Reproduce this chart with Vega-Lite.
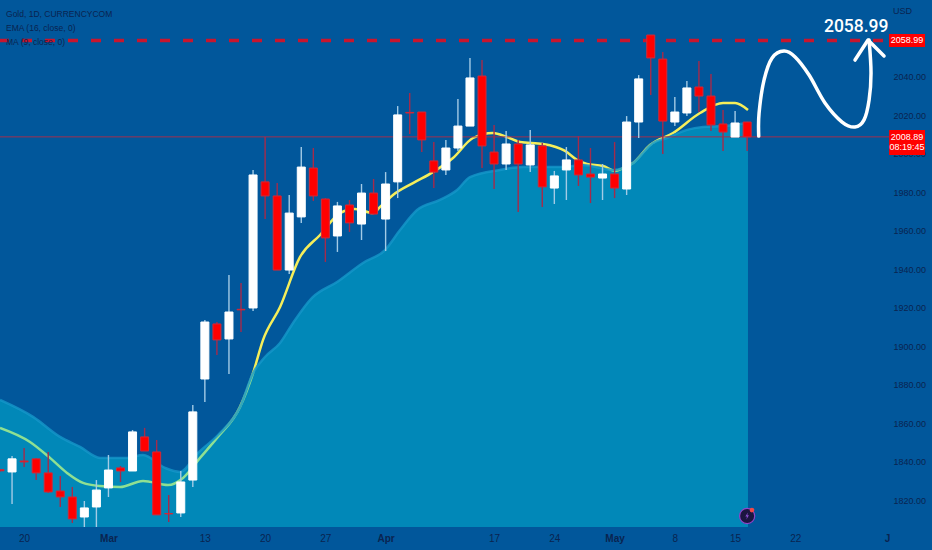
{"$schema":"https://vega.github.io/schema/vega-lite/v6.json","width":932,"height":527,"padding":{"left":0,"top":0,"right":0,"bottom":23},"autosize":{"type":"none"},"background":"#01579b","view":{"stroke":null},"config":{"axis":{"grid":false,"domain":false,"ticks":false,"title":null,"labelFont":"Liberation Sans","labelFontSize":9,"labelColor":"#0a2450"}},
"datasets":{
"candles":[{"i":0,"o":1836,"h":1836.2,"l":1835,"c":1835.4},{"i":1,"o":1834.8,"h":1843.1,"l":1818.2,"c":1841.6},{"i":2,"o":1840.5,"h":1847.3,"l":1837.4,"c":1840},{"i":3,"o":1841.6,"h":1842.1,"l":1830.6,"c":1834.3},{"i":4,"o":1834.3,"h":1845.2,"l":1823.9,"c":1824.4},{"i":5,"o":1824.9,"h":1832.7,"l":1816.6,"c":1821.8},{"i":6,"o":1821.8,"h":1827,"l":1808.3,"c":1810.4},{"i":7,"o":1811.4,"h":1819.7,"l":1806.2,"c":1816.1},{"i":8,"o":1816.6,"h":1830.6,"l":1806.2,"c":1825.4},{"i":9,"o":1826.5,"h":1843.6,"l":1821.8,"c":1835.8},{"i":10,"o":1836.9,"h":1837.9,"l":1829.6,"c":1835.3},{"i":11,"o":1835.3,"h":1856.6,"l":1835.3,"c":1855.6},{"i":12,"o":1853,"h":1857.7,"l":1845.7,"c":1845.7},{"i":13,"o":1845.2,"h":1851.4,"l":1812.5,"c":1812.5},{"i":14,"o":1813.2,"h":1822.8,"l":1808.8,"c":1813},{"i":15,"o":1813.5,"h":1835.3,"l":1811.4,"c":1829.6},{"i":16,"o":1830.6,"h":1869.6,"l":1827,"c":1866},{"i":17,"o":1883.1,"h":1913.8,"l":1871.2,"c":1912.7},{"i":18,"o":1911.7,"h":1912.7,"l":1895.6,"c":1903.4},{"i":19,"o":1903.9,"h":1937.1,"l":1885.7,"c":1917.9},{"i":20,"o":1919.3,"h":1933,"l":1907.5,"c":1919},{"i":21,"o":1920,"h":1991.7,"l":1918.4,"c":1989.1},{"i":22,"o":1985.5,"h":2008.8,"l":1966.2,"c":1978.2},{"i":23,"o":1978.2,"h":1984.9,"l":1939.7,"c":1939.7},{"i":24,"o":1939.7,"h":1978.7,"l":1937.6,"c":1969.3},{"i":25,"o":1967.3,"h":2003.6,"l":1964.2,"c":1993.2},{"i":26,"o":1992.7,"h":2003.1,"l":1975.6,"c":1978.2},{"i":27,"o":1976.6,"h":1977.1,"l":1943.9,"c":1956.4},{"i":28,"o":1957.4,"h":1975.1,"l":1949.1,"c":1973},{"i":29,"o":1973.5,"h":1976.1,"l":1959.5,"c":1964.2},{"i":30,"o":1963.6,"h":1984.4,"l":1955.3,"c":1979.7},{"i":31,"o":1979.7,"h":1987,"l":1968.3,"c":1968.8},{"i":32,"o":1966.2,"h":1990.6,"l":1949.6,"c":1984.4},{"i":33,"o":1985.5,"h":2024.9,"l":1977.1,"c":2020.3},{"i":34,"o":2021.6,"h":2031.7,"l":2010.4,"c":2021.3},{"i":35,"o":2021.8,"h":2021.8,"l":2001,"c":2007.3},{"i":36,"o":1996.4,"h":2006.2,"l":1982.3,"c":1990.6},{"i":37,"o":1991.7,"h":2007.3,"l":1989.1,"c":2003.1},{"i":38,"o":2003.1,"h":2028.6,"l":2001.6,"c":2014.5},{"i":39,"o":2014.5,"h":2049.9,"l":2014.5,"c":2039.5},{"i":40,"o":2040.5,"h":2048.8,"l":1992.7,"c":2004.2},{"i":41,"o":2001,"h":2015.1,"l":1981.8,"c":1994.8},{"i":42,"o":1994.8,"h":2011.9,"l":1991.7,"c":2005.2},{"i":43,"o":2005.2,"h":2007.3,"l":1969.9,"c":1994.8},{"i":44,"o":1994.3,"h":2012.5,"l":1990.6,"c":2004.7},{"i":45,"o":2004.2,"h":2005.7,"l":1972.5,"c":1982.9},{"i":46,"o":1982.3,"h":1991.2,"l":1974,"c":1988.6},{"i":47,"o":1991.7,"h":2003.6,"l":1976.1,"c":1996.9},{"i":48,"o":1996.9,"h":2009.3,"l":1983.4,"c":1989.1},{"i":49,"o":1989.6,"h":2003.1,"l":1974.5,"c":1988},{"i":50,"o":1987.5,"h":1994.8,"l":1976.1,"c":1989.6},{"i":51,"o":1989.6,"h":2006.2,"l":1977.1,"c":1982.3},{"i":52,"o":1981.8,"h":2019.7,"l":1978.7,"c":2016.6},{"i":53,"o":2016.6,"h":2041,"l":2008.3,"c":2039},{"i":54,"o":2061.8,"h":2061.8,"l":2030.6,"c":2049.9},{"i":55,"o":2049.3,"h":2053,"l":2000,"c":2017.1},{"i":56,"o":2016.6,"h":2029.6,"l":2014.5,"c":2021.8},{"i":57,"o":2021.3,"h":2037.9,"l":2019.7,"c":2034.3},{"i":58,"o":2034.8,"h":2048.3,"l":2021.8,"c":2030.1},{"i":59,"o":2030.1,"h":2041.6,"l":2011.9,"c":2015.1},{"i":60,"o":2015.6,"h":2022.9,"l":2001.6,"c":2011.4},{"i":61,"o":2008.8,"h":2022.3,"l":2008.8,"c":2016.1},{"i":62,"o":2016.6,"h":2016.6,"l":2001.6,"c":2008.89}],
"ma":[{"i":0,"p":1857.7},{"i":2.49,"p":1850.4},{"i":4.15,"p":1842.1},{"i":5.56,"p":1834.3},{"i":6.89,"p":1829.1},{"i":8.3,"p":1827.5},{"i":9.96,"p":1827},{"i":11.87,"p":1830.1},{"i":13.94,"p":1828},{"i":15.19,"p":1831.7},{"i":16.6,"p":1842.1},{"i":18.01,"p":1852.5},{"i":19.92,"p":1868.6},{"i":21,"p":1886.2},{"i":21.83,"p":1903.4},{"i":23.24,"p":1920.5},{"i":24.9,"p":1946.5},{"i":26.56,"p":1957.9},{"i":28.22,"p":1969.3},{"i":29.46,"p":1971.4},{"i":30.95,"p":1969.3},{"i":31.54,"p":1972.5},{"i":32.61,"p":1978.7},{"i":34.27,"p":1984.9},{"i":35.93,"p":1990.6},{"i":37.59,"p":1997.9},{"i":39.25,"p":2008.3},{"i":40.91,"p":2010.9},{"i":42.07,"p":2008.8},{"i":43.15,"p":2006.2},{"i":45.06,"p":2005.2},{"i":46.89,"p":2001.6},{"i":47.88,"p":1996.9},{"i":48.71,"p":1994.8},{"i":50.04,"p":1993.8},{"i":51.04,"p":1991.2},{"i":51.7,"p":1992.7},{"i":52.53,"p":1995.3},{"i":53.94,"p":2004.7},{"i":55.85,"p":2010.9},{"i":58.09,"p":2021.3},{"i":60,"p":2026.5},{"i":61,"p":2026.5},{"i":62.07,"p":2022.9}],
"ema":[{"i":0,"p":1872.2},{"i":2.74,"p":1863.4},{"i":4.98,"p":1853},{"i":6.64,"p":1847.8},{"i":8.3,"p":1842.1},{"i":10.54,"p":1842.1},{"i":11.87,"p":1843.6},{"i":13.69,"p":1836.9},{"i":14.94,"p":1834.8},{"i":16.43,"p":1844.7},{"i":18.09,"p":1854},{"i":19.92,"p":1868.6},{"i":21,"p":1886.2},{"i":21.99,"p":1894.5},{"i":23.24,"p":1901.8},{"i":24.32,"p":1912.2},{"i":25.89,"p":1925.2},{"i":27.97,"p":1933.5},{"i":30.12,"p":1943.4},{"i":31.95,"p":1950.1},{"i":33.2,"p":1960.5},{"i":34.61,"p":1970.9},{"i":36.51,"p":1976.1},{"i":37.93,"p":1981.3},{"i":39,"p":1988},{"i":41.49,"p":1991.7},{"i":43.4,"p":1993.2},{"i":46.72,"p":1993.2},{"i":48.38,"p":1994.3},{"i":50.87,"p":1991.7},{"i":52.53,"p":1995.3},{"i":54.19,"p":2005.7},{"i":55.35,"p":2008.3},{"i":57.01,"p":2012.5},{"i":58.34,"p":2014},{"i":60,"p":2014.5},{"i":62.07,"p":2016.1}],
"curve":[{"n":0,"i":62.96,"p":2009.3},{"n":1,"i":62.99,"p":2021.3},{"n":2,"i":63.4,"p":2038.4},{"n":3,"i":64.07,"p":2049.9},{"n":4,"i":65.06,"p":2053.5},{"n":5,"i":65.98,"p":2050.4},{"n":6,"i":67.14,"p":2041},{"n":7,"i":68.46,"p":2026.5},{"n":8,"i":69.88,"p":2016.6},{"n":9,"i":70.95,"p":2014},{"n":10,"i":71.7,"p":2017.7},{"n":11,"i":72.12,"p":2028},{"n":12,"i":72.28,"p":2042.1},{"n":13,"i":72.12,"p":2059.2}],
"head":[{"n":0,"i":70.95,"p":2048.8},{"n":1,"i":72.03,"p":2059.2},{"n":2,"i":73.36,"p":2050.9}],
"hlines":[{"i":0,"i2":73.78,"p":2008.89}],
"target":[{"i":0,"i2":73.78,"p":2058.99}],
"tags":[{"i":73.78,"i2":76.76,"p":2062.3,"p2":2055.6},{"i":73.78,"i2":76.76,"p":2012.5,"p2":1999.5}],
"tagText":[{"i":75.27,"p":2059,"t":"2058.99"},{"i":75.27,"p":2008.8,"t":"2008.89"},{"i":75.27,"p":2003.4,"t":"08:19:45"}],
"legend":[{"i":0.5,"p":2072.7,"t":"Gold, 1D, CURRENCYCOM","w":"bold"},{"i":0.5,"p":2065.5,"t":"EMA (16, close, 0)","w":"normal"},{"i":0.5,"p":2058.2,"t":"MA (9, close, 0)","w":"normal"}]
},
"encoding":{
"x":{"field":"i","type":"quantitative","title":null,"scale":{"domain":[0,77.34],"nice":false,"zero":false,"padding":0},"axis":{"values":[2,9,17,22,27,32,41,46,51,56,61,66,73.6],"labelExpr":"{'2':'20','9':'Mar','17':'13','22':'20','27':'27','32':'Apr','41':'17','46':'24','51':'May','56':'8','61':'15','66':'22','73.6':'J'}[datum.value]","labelPadding":6,"labelOverlap":false,"labelBound":false,"labelFlush":false,"labelFontSize":10,"labelFontWeight":{"condition":{"test":"datum.value==9||datum.value==32||datum.value==51||datum.value==73.6","value":"bold"},"value":"normal"}}},
"y":{"field":"p","type":"quantitative","title":null,"scale":{"domain":[1806.2,2080],"nice":false,"zero":false},"axis":{"orient":"right","offset":-47,"labelPadding":8,"values":[1820,1840,1860,1880,1900,1920,1940,1960,1980,2000,2020,2040],"format":".2f","labelOverlap":false,"labelBound":false,"labelFlush":false}}
},
"layer":[
{"data":{"name":"ma"},"mark":{"type":"line","interpolate":"monotone","stroke":"#f5ee5a","strokeWidth":2.5}},
{"data":{"name":"ema"},"mark":{"type":"area","interpolate":"monotone","color":"#03cce0","opacity":0.42},"encoding":{"y2":{"datum":1806.2}}},
{"data":{"name":"ema"},"mark":{"type":"line","interpolate":"monotone","stroke":"#1597c9","strokeWidth":2.5,"opacity":0.8}},
{"data":{"name":"hlines"},"mark":{"type":"rule","stroke":"#a0304f","strokeWidth":1},"encoding":{"x2":{"field":"i2"}}},
{"data":{"name":"target"},"mark":{"type":"rule","stroke":"#c8162e","strokeWidth":3.5,"strokeDash":[10,13],"strokeDashOffset":1},"encoding":{"x2":{"field":"i2"}}},
{"data":{"name":"candles"},"mark":{"type":"rule","strokeWidth":1.4},"encoding":{"y":{"field":"l","type":"quantitative","title":null,"scale":{"domain":[1806.2,2080],"nice":false,"zero":false},"axis":{"orient":"right","offset":-47,"labelPadding":8,"values":[1820,1840,1860,1880,1900,1920,1940,1960,1980,2000,2020,2040],"format":".2f","labelOverlap":false,"labelBound":false,"labelFlush":false}},"y2":{"field":"h"},"color":{"condition":{"test":"datum.c>=datum.o","value":"#a3cbe6"},"value":"#a62a4a"}}},
{"data":{"name":"candles"},"mark":{"type":"bar","size":8,"strokeWidth":1},"encoding":{"y":{"field":"o","type":"quantitative","title":null,"scale":{"domain":[1806.2,2080],"nice":false,"zero":false},"axis":{"orient":"right","offset":-47,"labelPadding":8,"values":[1820,1840,1860,1880,1900,1920,1940,1960,1980,2000,2020,2040],"format":".2f","labelOverlap":false,"labelBound":false,"labelFlush":false}},"y2":{"field":"c"},"color":{"condition":{"test":"datum.c>=datum.o","value":"#ffffff"},"value":"#ff0000"},"stroke":{"condition":{"test":"datum.c>=datum.o","value":"#ffffff"},"value":"#d02a3a"}}},
{"data":{"name":"curve"},"mark":{"type":"line","interpolate":"cardinal","stroke":"#ffffff","strokeWidth":3.5,"strokeCap":"round","strokeJoin":"round"},"encoding":{"order":{"field":"n"}}},
{"data":{"name":"head"},"mark":{"type":"line","stroke":"#ffffff","strokeWidth":3.5,"strokeCap":"round","strokeJoin":"round"},"encoding":{"order":{"field":"n"}}},
{"data":{"name":"tags"},"mark":{"type":"rect","fill":"#ff0000"},"encoding":{"x2":{"field":"i2"},"y2":{"field":"p2"}}},
{"data":{"name":"tagText"},"mark":{"type":"text","color":"#ffffff","font":"Liberation Sans","fontSize":9,"align":"center","baseline":"middle"},"encoding":{"text":{"field":"t"}}},
{"data":{"name":"legend"},"mark":{"type":"text","color":"#0a2450","font":"Liberation Sans","fontSize":8.5,"align":"left","baseline":"middle"},"encoding":{"text":{"field":"t"},"fontWeight":{"field":"w","type":"nominal","scale":null}}},
{"data":{"values":[{"i":74.9,"p":2074.3,"t":"USD"}]},"mark":{"type":"text","color":"#0a2450","font":"Liberation Sans","fontSize":9,"align":"center","baseline":"middle"},"encoding":{"text":{"field":"t"}}},
{"data":{"values":[{"i":71.05,"p":2065.9,"t":"2058.99"}]},"mark":{"type":"text","color":"#ffffff","font":"Roboto","fontWeight":500,"fontSize":17.5,"align":"center","baseline":"middle"},"encoding":{"text":{"field":"t"}}},
{"data":{"values":[{"i":62.0,"p":1811.9}]},"mark":{"type":"point","filled":true,"fill":"#1c1540","stroke":"#8e44c8","strokeWidth":1.2,"size":230,"opacity":1}},
{"data":{"values":[{"i":62.0,"p":1811.9}]},"mark":{"type":"point","filled":true,"fill":"#8a4fd0","stroke":null,"size":50,"opacity":1,"shape":"M0.2,-1 L-0.5,0.15 L-0.05,0.15 L-0.2,1 L0.5,-0.2 L0.05,-0.2 Z"}},
{"data":{"values":[{"i":62.4,"p":1815}]},"mark":{"type":"point","filled":true,"fill":"#f04848","stroke":null,"size":22,"opacity":1}}
]}
